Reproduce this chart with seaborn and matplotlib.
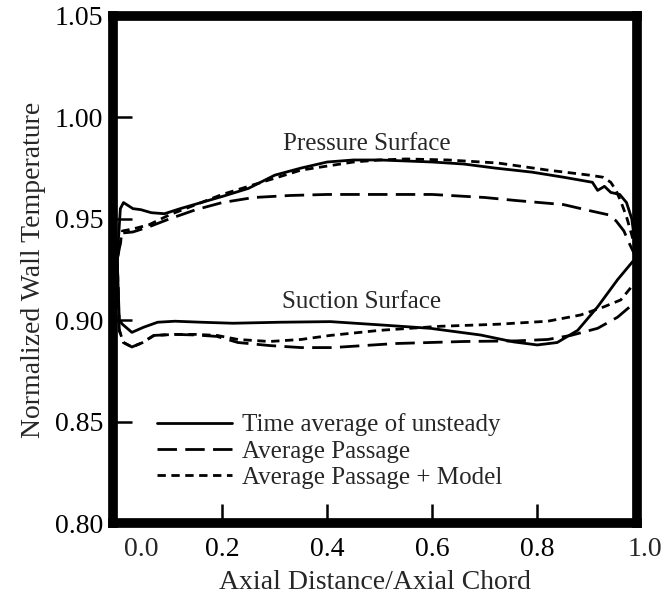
import numpy as np
import pandas as pd
import matplotlib
matplotlib.use("Agg")
import matplotlib.pyplot as plt
import seaborn as sns

# Normalized wall temperature along the blade (pressure and suction sides)
# Solid: time average of unsteady; long dash: average passage; short dash: average passage + model
ps_unsteady_x = [0.0, 0.006, 0.012, 0.03, 0.045, 0.065, 0.09, 0.12, 0.16, 0.20, 0.25, 0.30, 0.35,
                 0.40, 0.45, 0.50, 0.55, 0.60, 0.66, 0.72, 0.79, 0.85, 0.905, 0.915, 0.928, 0.94,
                 0.957, 0.97, 0.98, 0.99]
ps_unsteady_y = [0.930, 0.955, 0.958, 0.955, 0.9545, 0.953, 0.9525, 0.955, 0.958, 0.961, 0.965, 0.9715,
                 0.975, 0.978, 0.979, 0.979, 0.9785, 0.978, 0.977, 0.975, 0.973, 0.9705, 0.968, 0.964,
                 0.966, 0.963, 0.962, 0.958, 0.950, 0.930]

ps_avg_x = [0.0, 0.01, 0.03, 0.06, 0.10, 0.15, 0.20, 0.26, 0.33, 0.40, 0.50, 0.60, 0.70, 0.76, 0.85,
            0.90, 0.935, 0.95, 0.965, 0.975, 0.99]
ps_avg_y = [0.930, 0.943, 0.9435, 0.946, 0.950, 0.9545, 0.958, 0.9605, 0.9615, 0.962, 0.962, 0.962,
            0.9605, 0.959, 0.957, 0.954, 0.952, 0.949, 0.944, 0.938, 0.930]

ps_model_x = [0.0, 0.01, 0.03, 0.06, 0.10, 0.15, 0.20, 0.25, 0.30, 0.35, 0.40, 0.45, 0.50, 0.55,
              0.63, 0.725, 0.82, 0.90, 0.925, 0.94, 0.95, 0.96, 0.97, 0.98, 0.99]
ps_model_y = [0.930, 0.944, 0.945, 0.947, 0.952, 0.957, 0.962, 0.966, 0.970, 0.974, 0.976, 0.978,
              0.979, 0.9795, 0.979, 0.9775, 0.974, 0.9715, 0.9705, 0.968, 0.964, 0.958, 0.951,
              0.942, 0.932]

ss_unsteady_x = [0.0, 0.004, 0.01, 0.028, 0.05, 0.077, 0.11, 0.16, 0.22, 0.31, 0.406, 0.50, 0.596,
                 0.692, 0.755, 0.80, 0.838, 0.877, 0.915, 0.953, 0.982, 0.99]
ss_unsteady_y = [0.930, 0.900, 0.898, 0.894, 0.8965, 0.899, 0.8995, 0.899, 0.8985, 0.899, 0.8993,
                 0.8977, 0.896, 0.8927, 0.8893, 0.8878, 0.889, 0.895, 0.9066, 0.920, 0.929, 0.930]

ss_avg_x = [0.0, 0.004, 0.012, 0.028, 0.047, 0.07, 0.11, 0.15, 0.19, 0.23, 0.29, 0.35, 0.41, 0.53,
            0.66, 0.76, 0.82, 0.864, 0.915, 0.953, 0.978, 0.99]
ss_avg_y = [0.930, 0.895, 0.889, 0.8868, 0.8888, 0.8925, 0.893, 0.8927, 0.892, 0.889, 0.8875, 0.8865,
            0.8865, 0.8885, 0.8895, 0.8898, 0.8905, 0.8925, 0.896, 0.9015, 0.907, 0.910]

ss_model_x = [0.0, 0.004, 0.012, 0.028, 0.047, 0.07, 0.11, 0.15, 0.19, 0.23, 0.29, 0.35, 0.406, 0.50,
              0.615, 0.724, 0.82, 0.883, 0.927, 0.959, 0.978, 0.99]
ss_model_y = [0.930, 0.895, 0.889, 0.8868, 0.8888, 0.8925, 0.893, 0.893, 0.8925, 0.8905, 0.8895,
              0.8905, 0.8925, 0.895, 0.897, 0.898, 0.8995, 0.9026, 0.9066, 0.910, 0.916, 0.920]

methods = ["Time average of unsteady", "Average Passage", "Average Passage + Model"]
x_ticks = [0.0, 0.2, 0.4, 0.6, 0.8, 1.0]
y_ticks = [0.80, 0.85, 0.90, 0.95, 1.00, 1.05]

curves = [
    ("Pressure", methods[0], ps_unsteady_x, ps_unsteady_y),
    ("Pressure", methods[1], ps_avg_x, ps_avg_y),
    ("Pressure", methods[2], ps_model_x, ps_model_y),
    ("Suction", methods[0], ss_unsteady_x, ss_unsteady_y),
    ("Suction", methods[1], ss_avg_x, ss_avg_y),
    ("Suction", methods[2], ss_model_x, ss_model_y),
]
frames = []
for surface, method, xs, ys in curves:
    frames.append(pd.DataFrame({"x": xs, "y": ys, "method": method,
                                "curve": surface + "|" + method}))
df = pd.concat(frames, ignore_index=True)

sns.set_theme(style="white")
plt.rcParams["font.family"] = ["Liberation Serif", "DejaVu Serif"]

fig = plt.figure(figsize=(6.69, 6.05), dpi=100)
ax = fig.add_axes([0.1689, 0.1355, 0.9522 - 0.1689, 0.9736 - 0.1355])

dash_styles = {methods[0]: "", methods[1]: (7, 3), methods[2]: (3, 2)}
sns.lineplot(data=df, x="x", y="y", style="method", style_order=methods, units="curve",
             estimator=None, sort=False, color="black", dashes=dash_styles,
             linewidth=2.0, ax=ax)

ax.set_xlim(-0.008, 0.99)
ax.set_ylim(0.80, 1.05)

for side in ["left", "right", "top", "bottom"]:
    ax.spines[side].set_visible(True)
    ax.spines[side].set_color("black")
    ax.spines[side].set_linewidth(7)

# y ticks
ax.set_yticks(y_ticks)
ax.set_yticklabels([f"{v:.2f}" for v in y_ticks])
ax.tick_params(axis="y", direction="in", length=14, width=1.8, pad=7, labelsize=20,
               colors="black", left=True)

# x ticks: inner ones drawn normally, end labels nudged clear of the frame
tick_pad = 10
ax.set_xticks(x_ticks[1:-1])
ax.set_xticklabels([f"{v:.1f}" for v in x_ticks[1:-1]])
ax.tick_params(axis="x", direction="in", length=14, width=1.8, pad=tick_pad, labelsize=20,
               colors="black", bottom=True)
for xv, dx in [(x_ticks[0], 17), (x_ticks[-1], 2)]:
    ax.annotate(f"{xv:.1f}", xy=(xv, 0), xycoords=("data", "axes fraction"),
                xytext=(dx, -tick_pad), textcoords="offset points",
                ha="center", va="top", fontsize=20, annotation_clip=False)

ax.set_xlabel("Axial Distance/Axial Chord", fontsize=20, labelpad=6)
ax.set_ylabel("Normalized Wall Temperature", fontsize=20, labelpad=6)

ax.text(0.475, 0.987, "Pressure Surface", ha="center", va="center", fontsize=18)
ax.text(0.465, 0.909, "Suction Surface", ha="center", va="center", fontsize=18)

handles, labels = ax.get_legend_handles_labels()
ax.legend(handles, labels, loc="upper left", bbox_to_anchor=(0.065, 0.236), frameon=False,
          fontsize=18, handlelength=3.0, handletextpad=0.4, labelspacing=0.15,
          borderaxespad=0.0)

fig.savefig("out.png", dpi=100)
